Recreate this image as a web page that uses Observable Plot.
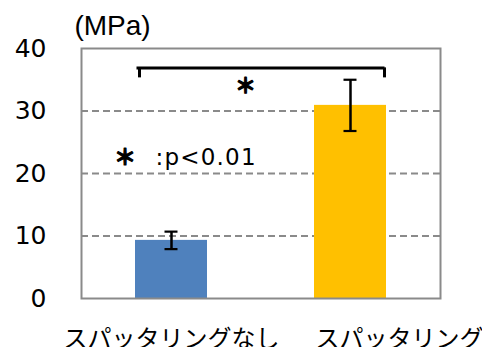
<!DOCTYPE html>
<html>
<head>
<meta charset="utf-8">
<script src="https://cdn.jsdelivr.net/npm/d3@7"></script>
<script src="https://cdn.jsdelivr.net/npm/@observablehq/plot@0.6"></script>
<style>
  html, body { margin: 0; padding: 0; background: #fff; }
  #chart svg { display: block; }
</style>
</head>
<body>
<div id="chart"></div>
<script>
// Tensile strength with and without sputtering (mean ± error)
const categories = ["スパッタリングなし", "スパッタリングあり"];
const strength = [9.3, 30.9];
const errorRange = [1.4, 4.1];
const barColors = ["#4F81BD", "#FFC000"];
const yTicks = [0, 10, 20, 30, 40];
const gridLevels = [10, 20, 30];
const unitLabel = "(MPa)";
const bracketLevel = [36.9];
const bracketDrop = [35.3];
const starLevel = [34.0];
const noteLevel = [22.5];
const noteStar = "＊";
const noteText = ":p<0.01";

const rows = categories.map((c, i) => ({
  cat: c,
  v: strength[i],
  lo: strength[i] - errorRange[i],
  hi: strength[i] + errorRange[i]
}));

const latin = "'DejaVu Sans', Verdana, sans-serif";
const cjk = "'Noto Sans CJK JP', sans-serif";
const gray = "#8a8a8a";

const chart = Plot.plot({
  width: 482,
  height: 347,
  marginLeft: 81,
  marginRight: 42,
  marginTop: 48,
  marginBottom: 49,
  style: {fontFamily: latin, background: "#fff", color: "#000", overflow: "visible"},
  x: {domain: categories, paddingInner: 0.6, paddingOuter: 0.3, axis: null},
  y: {domain: [0, 40], ticks: yTicks, label: null},
  color: {domain: categories, range: barColors},
  marks: [
    Plot.ruleY(gridLevels, {stroke: gray, strokeWidth: 2, strokeDasharray: "7,4"}),
    Plot.axisY(yTicks, {tickSize: 0, tickPadding: 35, fontSize: 25, label: null, fontFamily: latin}),
    Plot.barY(rows, {x: "cat", y: "v", fill: "cat"}),
    // error bars
    Plot.ruleX(rows, {x: "cat", y1: "lo", y2: "hi", stroke: "#000", strokeWidth: 2.5}),
    Plot.tickY(rows, {x: "cat", y: "hi", stroke: "#000", strokeWidth: 2.2, insetLeft: 29.5, insetRight: 29.5}),
    Plot.tickY(rows, {x: "cat", y: "lo", stroke: "#000", strokeWidth: 2.2, insetLeft: 29.5, insetRight: 29.5}),
    // significance bracket
    Plot.ruleY(bracketLevel, {x1: [categories[0]], x2: [categories[1]], insetLeft: 3, insetRight: 3, stroke: "#000", strokeWidth: 3, strokeLinecap: "square"}),
    Plot.ruleX([categories[0]], {y1: bracketDrop, y2: bracketLevel, dx: -32, stroke: "#000", strokeWidth: 3}),
    Plot.ruleX([categories[1]], {y1: bracketDrop, y2: bracketLevel, dx: 34, stroke: "#000", strokeWidth: 3}),
    Plot.text([noteStar], {y: starLevel, frameAnchor: "left", textAnchor: "middle", dx: 164, fontSize: 21, fontWeight: "bold", fontFamily: cjk, fill: "#000", stroke: "#000", strokeWidth: 1.2}),
    // note: * : p<0.01
    Plot.text([noteStar], {y: noteLevel, frameAnchor: "left", textAnchor: "middle", dx: 43.5, fontSize: 22, fontWeight: "bold", fontFamily: cjk, fill: "#000", stroke: "#000", strokeWidth: 1.2}),
    Plot.text([noteText], {y: noteLevel, frameAnchor: "left", dx: 74, textAnchor: "start", fontSize: 23, fontFamily: latin, fill: "#000"}),
    // unit label above the axis
    Plot.text([unitLabel], {frameAnchor: "top-left", textAnchor: "middle", lineAnchor: "middle", dx: 31, dy: -22, fontSize: 28, fontFamily: "'Liberation Sans', Arial, sans-serif", fill: "#000"}),
    // category labels
    Plot.text([categories[0]], {x: (d) => d, frameAnchor: "bottom", dx: 0, dy: 48, lineAnchor: "bottom", fontSize: 24, fontFamily: cjk, fill: "#000"}),
    Plot.text([categories[1]], {x: (d) => d, frameAnchor: "bottom", dx: -35, dy: 48, lineAnchor: "bottom", textAnchor: "start", fontSize: 24, fontFamily: cjk, fill: "#000"}),
    Plot.frame({stroke: gray, strokeWidth: 2})
  ]
});

// widen the p-value note slightly
d3.select(chart).selectAll("text")
  .filter(function () { return this.textContent === noteText; })
  .attr("letter-spacing", "1.2px");

document.getElementById("chart").appendChild(chart);
</script>
</body>
</html>
